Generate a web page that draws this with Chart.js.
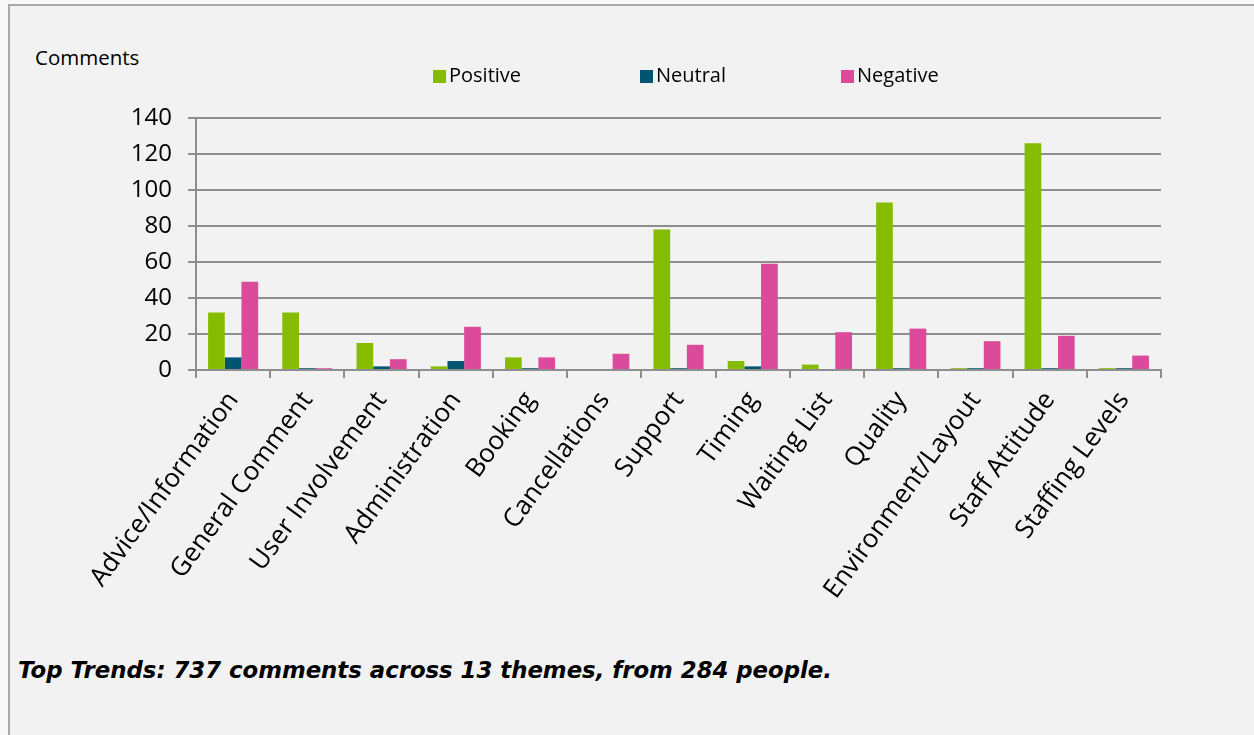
<!DOCTYPE html>
<html lang="en">

<head>
    <meta charset="UTF-8">
    <title>Top Trends</title>
    <style>
        html, body {
            margin: 0;
            padding: 0;
            background: #f8f8f8;
            width: 1254px;
            height: 735px;
            overflow: hidden;
        }

        #frame {
            position: absolute;
            left: 8px;
            top: 4px;
            right: 0;
            bottom: 0;
            background: #f2f2f2;
            border-left: 2px solid #a9a9a9;
            border-top: 2px solid #a9a9a9;
        }

        #yTitle {
            position: absolute;
            left: 35px;
            top: 43px;
            font: 20.5px "Open Sans", sans-serif;
            color: #000;
        }

        #caption {
            position: absolute;
            left: 18px;
            top: 657px;
            font: italic bold 22.8px "DejaVu Sans", sans-serif;
            color: #000;
        }

        #wrap {
            position: absolute;
            left: 0;
            top: 0;
            width: 1254px;
            height: 735px;
        }
    </style>
    <script src="https://cdn.jsdelivr.net/npm/chart.js"></script>
</head>

<body>
    <div id="frame"></div>
    <div id="yTitle">Comments</div>
    <div id="caption">Top Trends: 737 comments across 13 themes, from 284 people.</div>
    <div id="wrap"><canvas id="chart" width="1254" height="735"></canvas></div>

    <script>
        const themes = ["Advice/Information", "General Comment", "User Involvement", "Administration",
            "Booking", "Cancellations", "Support", "Timing", "Waiting List", "Quality",
            "Environment/Layout", "Staff Attitude", "Staffing Levels"];
        const positive = [32, 32, 15, 2, 7, 0, 78, 5, 3, 93, 1, 126, 1];
        const neutral = [7, 1, 2, 5, 1, 0, 1, 2, 0, 1, 1, 1, 1];
        const negative = [49, 1, 6, 24, 7, 9, 14, 59, 21, 23, 16, 19, 8];
        const seriesNames = ["Positive", "Neutral", "Negative"];
        const yTicks = [0, 20, 40, 60, 80, 100, 120, 140];

        const gridGray = "#8e8e8e";

        // legend drawn by hand so it sits where the original one does
        const legendSpots = [433, 640, 841];
        const manualLegend = {
            id: "manualLegend",
            afterDraw(chart) {
                const ctx = chart.ctx;
                ctx.save();
                ctx.font = '20px "Open Sans", sans-serif';
                ctx.textBaseline = "middle";
                chart.data.datasets.forEach((ds, i) => {
                    const x = legendSpots[i];
                    ctx.fillStyle = ds.backgroundColor;
                    ctx.fillRect(x, 70, 13, 13);
                    ctx.fillStyle = "#000";
                    ctx.fillText(ds.label, x + 16, 76);
                });
                ctx.restore();
            }
        };

        new Chart(document.getElementById("chart"), {
            type: "bar",
            data: {
                labels: themes,
                datasets: [
                    { label: seriesNames[0], data: positive, backgroundColor: "#86bc00" },
                    { label: seriesNames[1], data: neutral, backgroundColor: "#005670" },
                    { label: seriesNames[2], data: negative, backgroundColor: "#db4a9b" }
                ]
            },
            options: {
                responsive: false,
                animation: false,
                layout: { padding: { left: 0, right: 93, top: 118, bottom: 0 } },
                datasets: {
                    bar: { categoryPercentage: 0.675, barPercentage: 1 }
                },
                plugins: {
                    legend: { display: false },
                    tooltip: { enabled: false }
                },
                scales: {
                    x: {
                        afterFit(scale) { scale.height = 365; },
                        grid: {
                            drawOnChartArea: false,
                            drawTicks: true,
                            tickLength: 8,
                            color: gridGray,
                            lineWidth: 2
                        },
                        border: { color: gridGray, width: 2 },
                        ticks: {
                            minRotation: 54,
                            maxRotation: 54,
                            autoSkip: false,
                            padding: 8,
                            color: "#000",
                            font: { family: "Open Sans", size: 26 }
                        }
                    },
                    y: {
                        min: 0,
                        max: 140,
                        afterFit(scale) { scale.width = 196; },
                        afterBuildTicks(scale) {
                            scale.ticks = yTicks.map(v => ({ value: v }));
                        },
                        grid: {
                            color: gridGray,
                            lineWidth: 2,
                            tickLength: 8
                        },
                        border: { color: gridGray, width: 2 },
                        ticks: {
                            padding: 16,
                            color: "#000",
                            font: { family: "Open Sans", size: 24 }
                        }
                    }
                }
            },
            plugins: [manualLegend]
        });
    </script>
</body>

</html>
